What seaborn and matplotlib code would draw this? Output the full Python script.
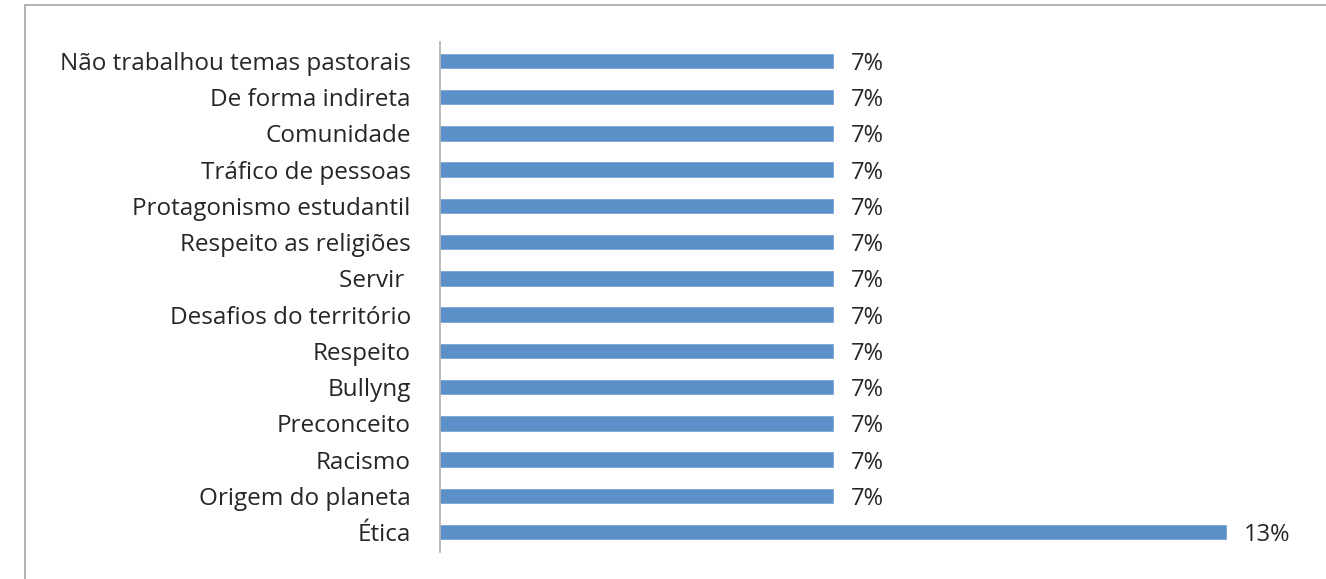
import matplotlib
matplotlib.use("Agg")
import matplotlib.pyplot as plt
import seaborn as sns
import pandas as pd
from matplotlib.patches import Rectangle

categories = [
    "Não trabalhou temas pastorais",
    "De forma indireta",
    "Comunidade",
    "Tráfico de pessoas",
    "Protagonismo estudantil",
    "Respeito as religiões",
    "Servir ",
    "Desafios do território",
    "Respeito",
    "Bullyng",
    "Preconceito",
    "Racismo",
    "Origem do planeta",
    "Ética",
]
percent = [6.67, 6.67, 6.67, 6.67, 6.67, 6.67, 6.67, 6.67, 6.67, 6.67, 6.67, 6.67, 6.67, 13.33]

df = pd.DataFrame({"tema": categories, "pct": percent})

sns.set_theme(style="white")
plt.rcParams["font.family"] = ["Open Sans", "DejaVu Sans"]

W, H = 1326, 579
fig = plt.figure(figsize=(W / 100, H / 100), dpi=100)
fig.patch.set_facecolor("white")

# outer chart frame
fig.add_artist(Rectangle((25 / W, 1 - 580 / H), (W + 20) / W, (580 - 5) / H,
                         transform=fig.transFigure, fill=False,
                         edgecolor="#a6a6a6", linewidth=1.2))

left, right = 440 / W, 1300 / W
top, bottom = 1 - 42 / H, 1 - 552 / H
ax = fig.add_axes([left, bottom, right - left, top - bottom])

sns.barplot(data=df, y="tema", x="pct", orient="h", color="#5b90c8",
            saturation=1, width=0.4, ax=ax, edgecolor="#7aa6d6", linewidth=0.6)

ax.set_xlim(0, 14.58)
ax.set_ylim(13.55, -0.52)
ax.set_xlabel("")
ax.set_ylabel("")
ax.set_xticks([])
for s in ["top", "right", "bottom"]:
    ax.spines[s].set_visible(False)
ax.spines["left"].set_color("#b0b0b0")
ax.spines["left"].set_linewidth(1.2)
ax.tick_params(axis="y", length=0, pad=21, labelsize=17.5, labelcolor="#262626")

for i, v in enumerate(percent):
    ax.text(v + 0.3, i, f"{v:.0f}%", va="center_baseline", ha="left",
            fontsize=17, color="#262626")

fig.savefig("out.png", dpi=100, facecolor="white")
